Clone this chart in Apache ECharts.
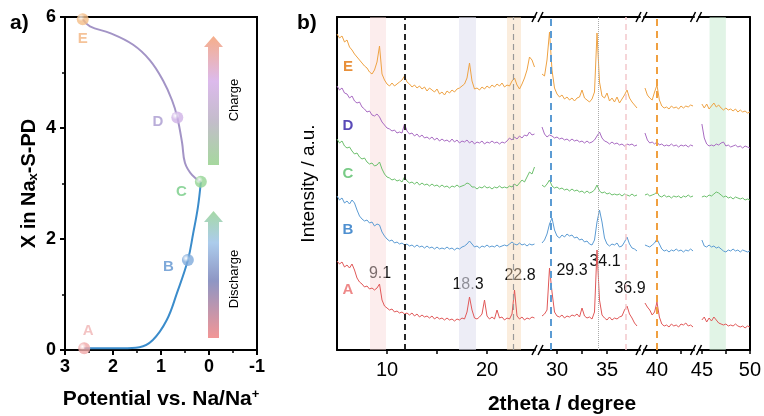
<!DOCTYPE html>
<html>
<head>
<meta charset="utf-8">
<script src="https://cdn.jsdelivr.net/npm/echarts@6/dist/echarts.min.js"></script>
<style>
  html, body { margin: 0; padding: 0; background: #fff; }
  #chart { width: 764px; height: 416px; }
</style>
</head>
<body>
<div id="chart"></div>
<script>
// ---- panel a: Na content vs potential ----
const dischargeX = [2.6, 2.2, 1.8, 1.45, 1.17, 0.88, 0.67, 0.44, 0.33, 0.23, 0.17]
const dischargeY = [0.03, 0.03, 0.03, 0.05, 0.18, 0.54, 1.02, 1.62, 2.1, 2.58, 3.03]
const chargeX = [0.17, 0.35, 0.5, 0.56, 0.66, 0.77, 0.96, 1.23, 1.58, 2.06, 2.48, 2.63]
const chargeY = [3.03, 3.15, 3.37, 3.73, 4.19, 4.5, 4.86, 5.22, 5.5, 5.71, 5.83, 5.96]
const stateNames = ['A', 'B', 'C', 'D', 'E']
const stateX = [2.6, 0.44, 0.17, 0.66, 2.63]
const stateY = [0.03, 1.62, 3.03, 4.19, 5.96]

// ---- panel b: XRD patterns, 4 axis segments, step 0.25 deg ----
const segStart = [5, 28.5, 38.75, 45]
const segRange = [[5, 24.8], [28.4, 38.3], [38.65, 43.85], [44.7, 50]]
const step = 0.25
const xrdA = [
  [89, 86, 88, 83, 85, 82, 86, 80, 72, 68, 66, 63, 64, 61, 62, 60, 62, 66, 50, 44,
   42, 40, 41, 38, 39, 37, 38, 36, 37, 35, 37, 34, 36, 33, 35, 33, 34, 32, 34, 31,
   33, 31, 32, 30, 32, 30, 31, 29, 31, 30, 32, 31, 38, 53, 40, 32, 31, 33, 36, 50,
   34, 31, 33, 31, 40, 32, 33, 30, 32, 31, 36, 60, 34, 31, 33, 30, 32, 31, 33, 32],
  [34, 36, 40, 82, 58, 38, 34, 33, 35, 32, 34, 33, 35, 34, 36, 33, 42, 34, 32, 33,
   31, 38, 100, 50, 35, 32, 30, 33, 30, 32, 31, 33, 34, 40, 44, 36, 32, 27, 24],
  [47, 43, 40, 35, 38, 48, 33, 26, 24, 25, 23, 26, 24, 25, 23, 26, 25, 27, 24, 25, 23],
  [30, 33, 28, 32, 29, 33, 30, 27, 26, 25, 26, 24, 25, 24, 26, 24, 23, 24, 22, 24, 23]
]
const xrdB = [
  [154, 150, 152, 147, 149, 146, 150, 147, 140, 134, 131, 129, 130, 127, 128, 124, 126, 125, 118, 114,
   111, 109, 110, 107, 108, 106, 107, 105, 106, 104, 105, 103, 105, 103, 104, 102, 104, 102, 103, 101,
   103, 101, 102, 101, 103, 101, 102, 100, 102, 101, 103, 104, 106, 109, 106, 103, 104, 102, 104, 103,
   105, 103, 104, 103, 105, 103, 104, 105, 104, 106, 108, 106, 105, 107, 105, 106, 104, 106, 105, 106],
  [107, 110, 116, 126, 132, 120, 114, 112, 115, 113, 116, 114, 115, 112, 113, 110, 111, 108, 109, 106,
   105, 110, 128, 140, 128, 112, 106, 104, 106, 105, 107, 103, 104, 108, 113, 106, 102, 101, 99],
  [105, 104, 103, 105, 107, 111, 106, 101, 99, 100, 98, 100, 99, 101, 99, 100, 98, 100, 99, 101, 99],
  [110, 104, 103, 105, 103, 104, 102, 103, 101, 99, 98, 100, 99, 101, 99, 100, 98, 100, 99, 98, 99]
]
const xrdC = [
  [211, 207, 209, 204, 202, 203, 199, 196, 197, 193, 191, 192, 188, 186, 187, 184, 185, 188, 181, 176,
   173, 172, 170, 171, 169, 170, 168, 173, 169, 167, 168, 166, 168, 165, 167, 165, 166, 164, 166, 164,
   165, 163, 165, 163, 164, 162, 164, 163, 165, 163, 164, 165, 167, 166, 163, 163, 161, 163, 162, 164,
   162, 163, 161, 163, 162, 164, 162, 163, 162, 164, 163, 166, 164, 167, 170, 168, 173, 178, 176, 183],
  [165, 163, 166, 170, 164, 162, 163, 161, 162, 160, 161, 159, 161, 159, 160, 158, 159, 157, 159, 157,
   158, 160, 165, 159, 157, 158, 156, 157, 155, 156, 155, 156, 154, 156, 155, 154, 156, 154, 155],
  [155, 156, 154, 155, 156, 158, 154, 153, 155, 153, 154, 152, 154, 153, 154, 152, 154, 153, 155, 153, 154],
  [153, 154, 153, 155, 154, 156, 158, 157, 155, 153, 154, 152, 153, 151, 153, 152, 151, 152, 150, 151, 150]
]
const xrdD = [
  [264, 260, 262, 257, 256, 252, 254, 249, 247, 248, 243, 241, 238, 239, 235, 234, 236, 233, 228, 225,
   222, 221, 219, 220, 217, 218, 217, 226, 219, 216, 217, 214, 216, 213, 215, 212, 213, 211, 213, 210,
   212, 209, 211, 209, 210, 208, 211, 208, 210, 207, 209, 208, 210, 207, 209, 206, 208, 207, 209, 206,
   208, 207, 209, 207, 208, 206, 208, 207, 209, 212, 210, 213, 211, 214, 212, 215, 214, 218, 215, 216],
  [223, 216, 213, 215, 214, 212, 213, 211, 212, 210, 211, 209, 211, 209, 210, 208, 209, 207, 209, 207,
   208, 210, 214, 218, 212, 209, 208, 206, 208, 206, 207, 205, 206, 204, 206, 205, 206, 204, 205],
  [217, 210, 207, 208, 206, 208, 205, 206, 204, 205, 204, 206, 204, 205, 203, 205, 204, 205, 203, 205, 204],
  [226, 212, 206, 204, 205, 204, 206, 205, 207, 208, 204, 205, 203, 204, 205, 203, 204, 202, 204, 203, 202]
]
const xrdE = [
  [316, 312, 314, 308, 310, 303, 300, 296, 293, 290, 287, 284, 282, 278, 276, 280, 288, 304, 276, 270,
   266, 264, 267, 264, 266, 268, 270, 274, 268, 266, 263, 265, 262, 264, 261, 263, 259, 262, 260, 258,
   261, 256, 258, 255, 259, 257, 260, 258, 261, 262, 264, 266, 272, 287, 269, 261, 262, 260, 263, 261,
   264, 262, 265, 263, 266, 264, 267, 263, 265, 264, 269, 272, 265, 261, 266, 272, 280, 293, 290, 283],
  [276, 274, 290, 318, 280, 262, 256, 253, 255, 251, 253, 250, 252, 249, 252, 253, 260, 252, 250, 248,
   251, 258, 317, 268, 254, 252, 257, 249, 252, 248, 253, 247, 251, 255, 260, 252, 248, 245, 242],
  [262, 255, 252, 250, 258, 265, 250, 244, 242, 243, 241, 244, 242, 243, 241, 244, 242, 244, 243, 245, 244],
  [246, 242, 246, 241, 244, 247, 243, 245, 242, 240, 242, 240, 241, 239, 241, 238, 240, 238, 239, 237, 238]
]
const patternNames = ['A', 'B', 'C', 'D', 'E']
const patternData = [xrdA, xrdB, xrdC, xrdD, xrdE]
const tickValues = [[10, 15, 20], [30, 32.5, 35], [40, 42.5], [45, 47.5, 50]]
const labelValues = [[10, 20], [30, 35], [40], [45, 50]]
const bandRanges = [[8.3, 9.9], [17.2, 18.9], [22.0, 23.4], [45.8, 47.5]]
const refLines = [11.8, 22.6, 29.37, 34.1, 36.83, 40.0]
const peakLabels = ['9.1', '18.3', '22.8', '29.3', '34.1', '36.9']

// colours / styles
const FONT = 'Liberation Sans, Arial, sans-serif'
const stateColors = ['#f0a8a8', '#7faadb', '#93d493', '#cfb2e6', '#f4bd86']
const stateLabelColors = ['#f0b4b4', '#5f93cf', '#74cc84', '#a99ad0', '#f2b480']
const lineColors = ['#e05858', '#5b9bd3', '#6cbf6c', '#a86bc2', '#eea243']
const letterColors = ['#ee8888', '#4f90d0', '#78cb86', '#5a4ab8', '#e8903a']
const bandColors = ['rgba(248,215,215,0.45)', 'rgba(225,225,240,0.6)', 'rgba(246,215,180,0.45)', 'rgba(200,235,210,0.55)']
const refStyles = [
  { color: '#111', width: 1.8, type: [6, 4] },
  { color: '#999', width: 1.2, type: [6, 4] },
  { color: '#5b9bd3', width: 2, type: [7, 5] },
  { color: '#aaa', width: 1, type: 'dotted' },
  { color: '#f3c8cc', width: 1.5, type: [6, 4] },
  { color: '#f0a040', width: 2, type: [7, 5] }
]
const peakPos = [[380, 274], [468, 285], [520, 276], [572, 271], [605, 262], [630, 289]]
const letterPos = [[348, 290], [348, 230], [348, 174], [348, 126], [348, 67]]

const gridB = [
  { left: 337, top: 17, width: 198, height: 333 },
  { left: 541, top: 17, width: 99, height: 333 },
  { left: 644, top: 17, width: 50, height: 333 },
  { left: 699, top: 17, width: 52, height: 333 }
]

function segOf (x) {
  for (let s = 0; s < segRange.length; s++) {
    if (x >= segRange[s][0] && x <= segRange[s][1]) return s
  }
  return 0
}

const chart = echarts.init(document.getElementById('chart'))

const grids = [{ left: 65, top: 17, width: 192, height: 333, show: true, borderColor: '#000', borderWidth: 2, backgroundColor: 'transparent' }]
gridB.forEach(g => grids.push(g))

const xAxes = [{
  gridIndex: 0,
  type: 'value',
  min: -1,
  max: 3,
  interval: 1,
  inverse: true,
  axisLine: { onZero: false, lineStyle: { color: '#000', width: 2 } },
  axisTick: { length: 5, lineStyle: { color: '#000', width: 2 } },
  minorTick: { show: true, splitNumber: 2, length: 3, lineStyle: { color: '#000', width: 1.5 } },
  splitLine: { show: false },
  axisLabel: { color: '#000', fontSize: 18, fontWeight: 'bold', fontFamily: FONT, margin: 8 },
  name: 'Potential vs. Na/Na{sup|+}',
  nameLocation: 'middle',
  nameGap: 38,
  nameTextStyle: {
    color: '#000', fontSize: 21, fontWeight: 'bold', fontFamily: FONT,
    rich: { sup: { fontSize: 13, fontWeight: 'bold', fontFamily: FONT, verticalAlign: 'top', padding: [0, 0, 9, 0] } }
  }
}]
const yAxes = [{
  gridIndex: 0,
  type: 'value',
  min: 0,
  max: 6,
  interval: 2,
  axisLine: { onZero: false, lineStyle: { color: '#000', width: 2 } },
  axisTick: { length: 5, lineStyle: { color: '#000', width: 2 } },
  minorTick: { show: true, splitNumber: 2, length: 3, lineStyle: { color: '#000', width: 1.5 } },
  splitLine: { show: false },
  axisLabel: { color: '#000', fontSize: 18, fontWeight: 'bold', fontFamily: FONT, margin: 9 },
  name: 'X in Na{sub|x}-S-PD',
  nameLocation: 'middle',
  nameGap: 25,
  nameTextStyle: {
    color: '#000', fontSize: 20, fontWeight: 'bold', fontFamily: FONT,
    rich: { sub: { fontSize: 13, fontWeight: 'bold', fontFamily: FONT, verticalAlign: 'bottom', padding: [9, 0, 0, 0] } }
  }
}]

// bottom axes 1..4, then top axes 5..8
gridB.forEach((g, s) => {
  xAxes.push({
    gridIndex: s + 1,
    type: 'value',
    min: segRange[s][0],
    max: segRange[s][1],
    axisLine: { onZero: false, lineStyle: { color: '#000', width: 2 } },
    axisTick: { customValues: tickValues[s], length: 4, lineStyle: { color: '#000', width: 1.5 } },
    splitLine: { show: false },
    axisLabel: { customValues: labelValues[s], color: '#000', fontSize: 20, fontFamily: FONT, margin: 10 }
  })
})
gridB.forEach((g, s) => {
  xAxes.push({
    gridIndex: s + 1,
    type: 'value',
    position: 'top',
    min: segRange[s][0],
    max: segRange[s][1],
    axisLine: { onZero: false, lineStyle: { color: '#000', width: 2 } },
    axisTick: { show: false },
    axisLabel: { show: false },
    splitLine: { show: false }
  })
})
gridB.forEach((g, s) => {
  const y = {
    gridIndex: s + 1,
    type: 'value',
    min: 0,
    max: 333,
    axisTick: { show: false },
    axisLabel: { show: false },
    splitLine: { show: false },
    axisLine: { show: s === 0 || s === 3, onZero: false, lineStyle: { color: '#000', width: 2 } }
  }
  if (s === 3) y.position = 'right'
  if (s === 0) {
    y.name = 'Intensity / a.u.'
    y.nameLocation = 'middle'
    y.nameGap = 19
    y.nameTextStyle = { color: '#000', fontSize: 19, fontFamily: FONT }
  }
  yAxes.push(y)
})

const series = []

// shaded bands and reference lines, one carrier series per segment
gridB.forEach((g, s) => {
  const areas = []
  bandRanges.forEach((b, i) => {
    if (segOf(b[0]) === s) areas.push([{ xAxis: b[0], itemStyle: { color: bandColors[i] } }, { xAxis: b[1] }])
  })
  const lines = []
  refLines.forEach((v, i) => {
    if (segOf(v) === s) lines.push({ xAxis: v, lineStyle: refStyles[i] })
  })
  series.push({
    type: 'line',
    xAxisIndex: s + 1,
    yAxisIndex: s + 1,
    data: [],
    silent: true,
    markArea: { silent: true, data: areas },
    markLine: { silent: true, symbol: 'none', label: { show: false }, data: lines, animation: false }
  })
})

// XRD traces
patternData.forEach((pat, p) => {
  pat.forEach((vals, s) => {
    series.push({
      type: 'line',
      name: patternNames[p],
      xAxisIndex: s + 1,
      yAxisIndex: s + 1,
      data: vals.map((v, i) => [segStart[s] + i * step, v]),
      showSymbol: false,
      silent: true,
      lineStyle: { color: lineColors[p], width: 1 },
      z: 3
    })
  })
})

// panel a curves
series.push({
  type: 'line',
  xAxisIndex: 0,
  yAxisIndex: 0,
  data: dischargeX.map((x, i) => [x, dischargeY[i]]),
  smooth: 0.4,
  showSymbol: false,
  lineStyle: { color: '#3b8ccb', width: 2 }
})
series.push({
  type: 'line',
  xAxisIndex: 0,
  yAxisIndex: 0,
  data: chargeX.map((x, i) => [x, chargeY[i]]),
  smooth: 0.4,
  showSymbol: false,
  lineStyle: { color: '#a394c6', width: 2 }
})
const labelPlace = [
  { position: 'top', distance: 4, offset: [4, 0] },
  { position: 'left', distance: 8, offset: [0, 7] },
  { position: 'left', distance: 8, offset: [0, 10] },
  { position: 'left', distance: 8, offset: [0, 4] },
  { position: 'bottom', distance: 6, offset: [0, 0] }
]
series.push({
  type: 'scatter',
  xAxisIndex: 0,
  yAxisIndex: 0,
  symbolSize: 12,
  z: 5,
  data: stateNames.map((n, i) => ({
    value: [stateX[i], stateY[i]],
    itemStyle: {
      color: new echarts.graphic.RadialGradient(0.35, 0.35, 0.7, [
        { offset: 0, color: '#ffffff' },
        { offset: 0.45, color: stateColors[i] },
        { offset: 1, color: stateColors[i] }
      ])
    },
    label: Object.assign({
      show: true,
      formatter: n,
      color: stateLabelColors[i],
      fontSize: 15,
      fontWeight: 'bold',
      fontFamily: FONT
    }, labelPlace[i])
  }))
})

// decorations: panel tags, arrows, break marks, peak labels
const centered = { textAlign: 'center', textVerticalAlign: 'middle', align: 'center', verticalAlign: 'middle' }
const graphic = [
  { type: 'text', x: 10, y: 13, style: { text: 'a)', font: 'bold 21px ' + FONT, fill: '#000' } },
  { type: 'text', x: 297, y: 13, style: { text: 'b)', font: 'bold 21px ' + FONT, fill: '#000' } },
  {
    type: 'polygon',
    shape: { points: [[208, 165], [219, 165], [219, 47], [223, 47], [213.5, 36], [204, 47], [208, 47]] },
    style: {
      fill: new echarts.graphic.LinearGradient(0, 1, 0, 0, [
        { offset: 0, color: '#a6d89e' },
        { offset: 0.35, color: '#c4bccc' },
        { offset: 0.65, color: '#dcbaec' },
        { offset: 1, color: '#f6ae8a' }
      ])
    }
  },
  {
    type: 'polygon',
    shape: { points: [[208, 338], [219, 338], [219, 222], [223, 222], [213.5, 211], [204, 222], [208, 222]] },
    style: {
      fill: new echarts.graphic.LinearGradient(0, 1, 0, 0, [
        { offset: 0, color: '#f29696' },
        { offset: 0.45, color: '#8e96c4' },
        { offset: 0.75, color: '#acccec' },
        { offset: 1, color: '#a6d9a6' }
      ])
    }
  },
  { type: 'text', x: 234, y: 100, rotation: Math.PI / 2, style: Object.assign({ text: 'Charge', font: '13px ' + FONT, fill: '#000' }, centered) },
  { type: 'text', x: 234, y: 279, rotation: Math.PI / 2, style: Object.assign({ text: 'Discharge', font: '13px ' + FONT, fill: '#000' }, centered) },
  { type: 'text', x: 562, y: 404, style: Object.assign({ text: '2theta / degree', font: 'bold 21px ' + FONT, fill: '#000' }, centered) }
]
const breakX = [538, 642, 696.5]
breakX.forEach(bx => {
  [17, 350].forEach(by => {
    graphic.push({ type: 'line', shape: { x1: bx - 6, y1: by + 5, x2: bx - 1, y2: by - 5 }, style: { stroke: '#000', lineWidth: 1.5 } })
    graphic.push({ type: 'line', shape: { x1: bx, y1: by + 5, x2: bx + 5, y2: by - 5 }, style: { stroke: '#000', lineWidth: 1.5 } })
  })
})
peakLabels.forEach((t, i) => {
  graphic.push({ type: 'text', x: peakPos[i][0], y: peakPos[i][1], style: Object.assign({ text: t, font: '16px ' + FONT, fill: '#111' }, centered) })
})
patternNames.forEach((n, i) => {
  graphic.push({ type: 'text', x: letterPos[i][0], y: letterPos[i][1], style: Object.assign({ text: n, font: 'bold 15px ' + FONT, fill: letterColors[i] }, centered) })
})

chart.setOption({
  animation: false,
  grid: grids,
  xAxis: xAxes,
  yAxis: yAxes,
  series: series,
  graphic: graphic
})
</script>
</body>
</html>
